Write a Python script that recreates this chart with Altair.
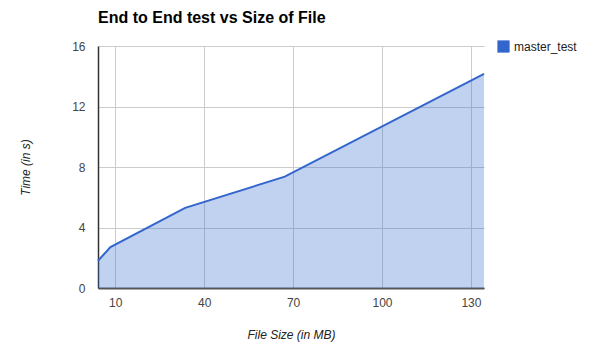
import altair as alt
import pandas as pd

file_size = [4.2, 8.4, 33.6, 67.2, 134.4]
time_s = [1.8, 2.7, 5.3, 7.36, 14.15]
series = ["master_test"] * 5

df = pd.DataFrame({"size": file_size, "time": time_s, "series": series})

FONT = "Liberation Sans"

x = alt.X("size:Q", title="File Size (in MB)",
          scale=alt.Scale(domain=[4.2, 134.4], nice=False, zero=False),
          axis=alt.Axis(values=[10, 40, 70, 100, 130], ticks=False, labelPadding=9,
                        domainColor="#555555", domainWidth=2, labelColor="#444444",
                        labelFontSize=12, titleFontSize=12, titleFontStyle="italic",
                        titleFontWeight="normal", titleColor="#222222", titleY=41,
                        gridColor="#cccccc", labelFont=FONT, titleFont=FONT))
y = alt.Y("time:Q", title="Time (in s)",
          scale=alt.Scale(domain=[0, 16], nice=False),
          axis=alt.Axis(values=[0, 4, 8, 12, 16], ticks=False, labelPadding=13,
                        domainColor="#333333", domainWidth=1.5, labelColor="#444444",
                        labelFontSize=12, titleFontSize=12, titleFontStyle="italic",
                        titleFontWeight="normal", titleColor="#222222", titleX=-66,
                        gridColor="#cccccc", labelFont=FONT, titleFont=FONT))

color = alt.Color("series:N", scale=alt.Scale(range=["#3366cc"]),
                  legend=alt.Legend(title=None, orient="none", legendX=399, legendY=-6,
                                    symbolType="square", symbolSize=150, symbolOpacity=1,
                                    symbolStrokeWidth=0, labelFontSize=12, labelColor="#222222",
                                    labelFont=FONT, symbolFillColor="#3366cc"))

area = alt.Chart(df).mark_area(opacity=0.3).encode(x=x, y=y, color=color)
line = alt.Chart(df).mark_line(strokeWidth=2, color="#3366cc").encode(x=x, y=y)

chart = (area + line).properties(
    width=386, height=242,
    title=alt.TitleParams("End to End test vs Size of File", anchor="start", frame="group",
                          fontSize=16, font=FONT, fontWeight="bold", color="#000000",
                          offset=14),
    autosize=alt.AutoSizeParams(type="none"),
    padding={"left": 98, "top": 46, "right": 112, "bottom": 55},
).configure_view(stroke=None)

chart.save("out.html", embed_options={"renderer": "svg", "actions": False})
